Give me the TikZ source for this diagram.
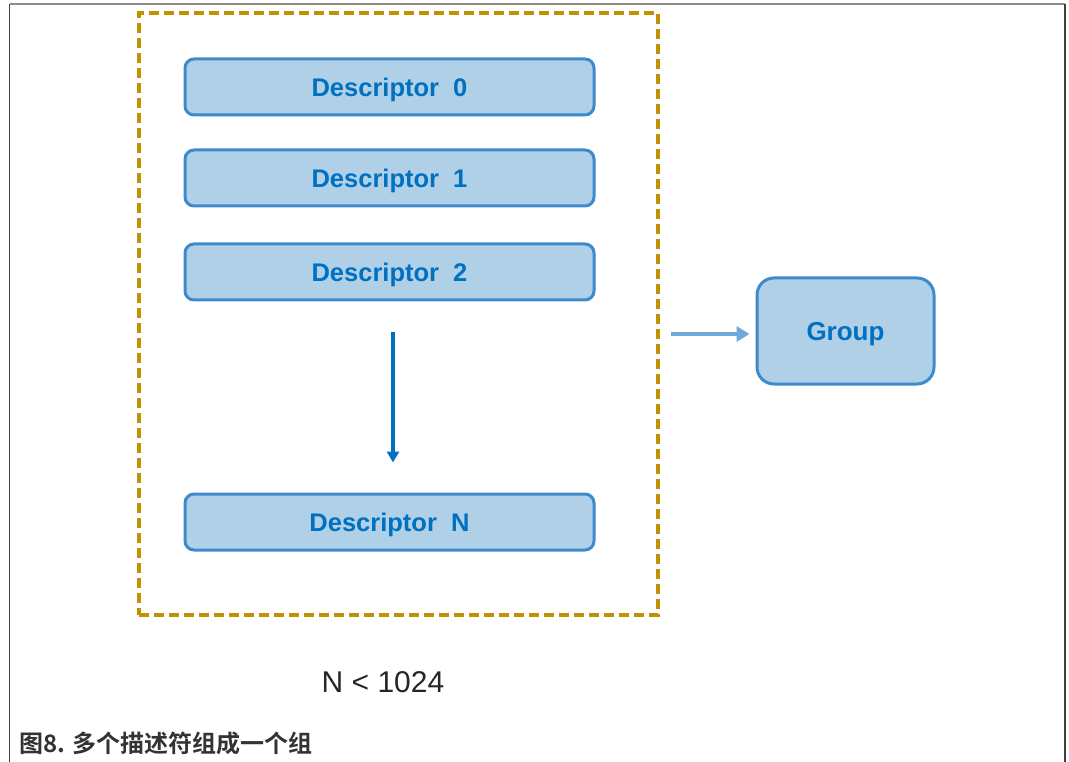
\documentclass[tikz,border=0pt]{standalone}
\usepackage{fontspec}
\setmainfont{Liberation Sans}
\newfontfamily\cjkbold{Noto Sans CJK SC Bold}
\usetikzlibrary{arrows.meta}
\definecolor{gold}{HTML}{C29100}
\definecolor{boxfill}{HTML}{B0D0E8}
\definecolor{boxline}{HTML}{3D8BCD}
\definecolor{txtblue}{HTML}{0070C0}
\definecolor{lightarrow}{HTML}{70A8DC}
\tikzset{
  descbox/.style={draw=boxline, fill=boxfill, line width=3pt, rounded corners=9pt,
    minimum width=409pt, minimum height=56pt, inner sep=0pt,
    text height=18.5pt, text depth=0pt,
    text=txtblue, font=\fontsize{25.5}{30}\selectfont\bfseries},
  groupbox/.style={draw=boxline, fill=boxfill, line width=3pt, rounded corners=17pt,
    minimum width=177pt, minimum height=106pt, inner sep=0pt,
    text height=18.5pt, text depth=0pt,
    text=txtblue, font=\fontsize{26}{30}\selectfont\bfseries},
  dashbox/.style={draw=gold, line width=3.5pt, dash pattern=on 10pt off 5pt,
    minimum width=519pt, minimum height=602pt, inner sep=0pt},
  frameline/.style={line width=1.4pt},
}
\begin{document}
\begin{tikzpicture}[x=1pt,y=-1pt]
\useasboundingbox (0,0) rectangle (1069,762);
% outer frame
\coordinate (fl) at (9.5,762);
\coordinate (ftl) at (9.5,4);
\coordinate (ftr) at (1065,4);
\coordinate (fr) at (1065,762);
\draw[frameline, draw=black!45] (ftl) -- (ftr);
\draw[frameline, draw=black!75] (fl) -- (ftl);
\draw[frameline, draw=black!75] (ftr) -- (fr);
% dashed group container
\node[dashbox] (box) at (398.5,314) {};
% descriptors
\node[descbox] (d0) at (389.5,87) {Descriptor\ \ 0};
\node[descbox] (d1) at (389.5,178) {Descriptor\ \ 1};
\node[descbox] (d2) at (389.5,272) {Descriptor\ \ 2};
\node[descbox] (dN) at (389.5,522) {Descriptor\ \ N};
\draw[draw=txtblue, line width=3.3pt, -{Triangle[length=11pt,width=12pt]},
  shorten <=30pt, shorten >=30pt] ([xshift=3.5pt]d2.south) -- ([xshift=3.5pt]dN.north);
% group
\node[groupbox] (grp) at (845.5,331) {Group};
\draw[draw=lightarrow, line width=4pt, -{Triangle[length=13pt,width=15pt]},
  shorten <=11pt, shorten >=6pt] ([yshift=-3pt]box.east |- grp.west) -- ([yshift=-3pt]grp.west);
% labels
\node[font=\fontsize{30}{34}\selectfont, text=black!85, inner sep=0pt] (lim) at (383,682) {N < 1024};
\node[anchor=west, font=\fontsize{24}{28}\selectfont\cjkbold, text=black!80, inner sep=0pt] (cap) at (19,743) {图8. 多个描述符组成一个组};
\end{tikzpicture}
\end{document}
